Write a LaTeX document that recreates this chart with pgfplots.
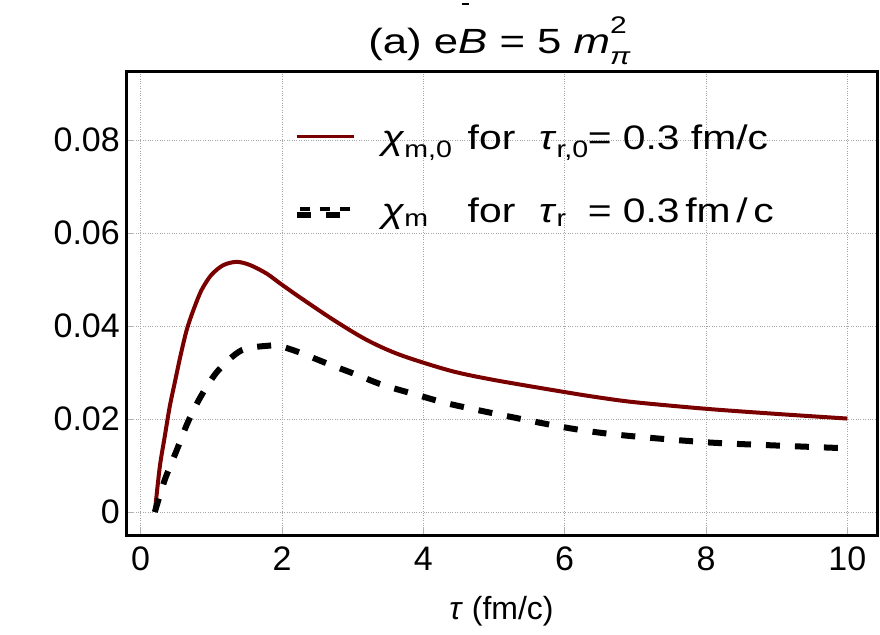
\documentclass[border=0pt]{standalone}
\usepackage{fontspec}
\setmainfont{Liberation Sans}
\newfontfamily\wide{Liberation Sans}[FakeStretch=1.25]
\newfontfamily\wideleg{Liberation Sans}[FakeStretch=1.2]
\usepackage{pgfplots}
\pgfplotsset{compat=1.18}
\definecolor{dred}{RGB}{122,0,0}
\begin{document}
\begin{tikzpicture}
\begin{axis}[
  scale only axis,
  width=751pt, height=464pt,
  xmin=-0.208, xmax=10.42,
  ymin=-0.00495, ymax=0.09484,
  axis line style={line width=3pt, black},
  xtick={0,2,4,6,8,10},
  xticklabels={0,2,4,6,8,10},
  ytick={0,0.02,0.04,0.06,0.08},
  yticklabels={0,0.02,0.04,0.06,0.08},
  scaled y ticks=false,
  /pgf/number format/assume math mode=true,
  tick align=inside,
  major tick length=8pt,
  tick style={gray!60, line width=0.8pt},
  xtick pos=bottom, ytick pos=left,
  grid=major,
  major grid style={dotted, gray!70, line width=0.9pt},
  ticklabel style={font=\fontsize{34}{40}\selectfont},
  xticklabel style={inner sep=0pt, anchor=north, yshift=-12pt},
  yticklabel style={inner sep=0pt, anchor=east, xshift=-6pt},
  clip=false,
  legend cell align=left,
  legend style={draw=none, fill=none, at={(rel axis cs:0.2228,0.8825)}, anchor=north west,
    font=\wideleg\fontsize{34}{40}\selectfont, row sep=39.5pt, inner sep=0pt,
    nodes={inner sep=0pt, text height=24pt, text depth=9pt},
    /tikz/every odd column/.append style={column sep=25pt}},
]
\addplot[dred, line width=4pt, smooth, tension=0.5,
  legend image code/.code={\draw[dred, line width=3.3pt] (0pt,6pt) -- (57pt,6pt);}]
coordinates {
(0.20,0.0000) (0.27,0.0097) (0.34,0.0162) (0.41,0.0226) (0.49,0.0284)
(0.56,0.0334) (0.65,0.0391) (0.745,0.0434) (0.86,0.0477) (1.00,0.0510)
(1.17,0.0531) (1.36,0.0538) (1.55,0.0531) (1.78,0.0513) (1.97,0.0492)
(2.25,0.0462) (2.73,0.0413) (3.20,0.0370) (3.67,0.0338) (4.38,0.0304)
(5.0,0.0284) (6.0,0.0258) (6.5,0.0246) (7.0,0.0236) (8.0,0.0222)
(9.0,0.0211) (10.0,0.0201)
};
\addlegendentry{\textit{χ}\textsubscript{m,0}\hspace{0.45em}for\hspace{0.7em}\textit{τ}\textsubscript{r,0}\kern-1pt= 0.3 fm/c}
\addplot[black, line width=6pt, smooth, tension=0.5, dash pattern=on 14pt off 15pt,
  legend image code/.code={\draw[black, line width=4pt, dash pattern=on 10pt off 10pt] (3pt,6pt) -- (55pt,6pt); \path (0pt,0pt) -- (57pt,0pt);}]
coordinates {
(0.20,0.0000) (0.34,0.0069) (0.51,0.0133) (0.67,0.0194) (0.86,0.0251)
(1.10,0.0305) (1.43,0.0348) (1.83,0.0358) (1.97,0.0357) (2.25,0.0343)
(2.63,0.0320) (3.06,0.0295) (3.43,0.0273) (3.91,0.0252) (4.33,0.0234)
(5.0,0.0212) (6.0,0.0182) (6.76,0.0166) (8.0,0.0150) (9.0,0.0143) (10.0,0.0137)
};
\addlegendentry{\rlap{\textit{χ}\textsubscript{m}}\phantom{\textit{χ}\textsubscript{m,0}}\hspace{0.45em}for\hspace{0.7em}\rlap{\textit{τ}\textsubscript{r}}\phantom{\textit{τ}\textsubscript{r,0}}\kern-1pt= 0.3\,fm\,/\,c}
\node[anchor=base, font=\wide\fontsize{35}{40}\selectfont] at ([xshift=-2pt, yshift=18pt]rel axis cs:0.5,1)
  {(a) e\rlap{\hspace{0.1em}\rule[1.36em]{0.22em}{0.06em}}\textit{B} = 5 \textit{m}\rlap{\raisebox{0.55em}{\fontsize{24}{28}\selectfont 2}}\raisebox{-0.32em}{\fontsize{24}{28}\selectfont\textit{π}}};
\node[anchor=base, font=\fontsize{32}{36}\selectfont] at ([yshift=-84pt]rel axis cs:0.5,0)
  {\textit{τ} (fm/c)};
\end{axis}
\path (current axis.south west) ++(-126pt,-99pt) coordinate (bbA);
\path (current axis.south west) ++(754pt,535pt) coordinate (bbB);
\path (bbA) rectangle (bbB);
\end{tikzpicture}
\end{document}
